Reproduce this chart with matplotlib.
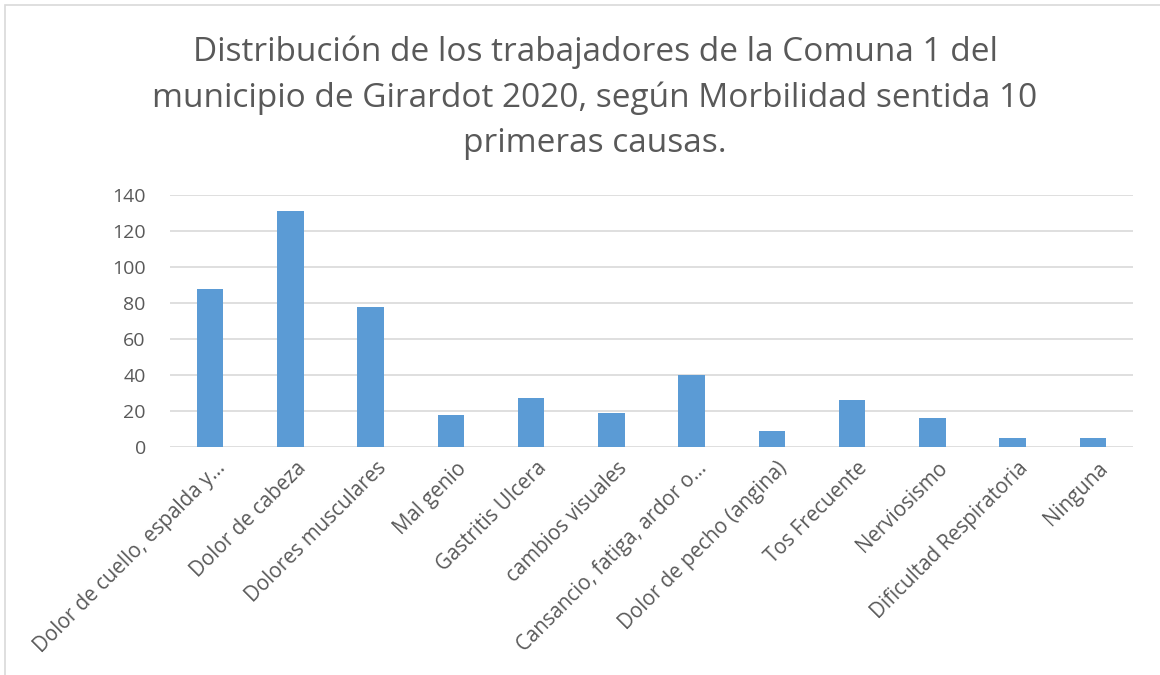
import matplotlib.pyplot as plt
from matplotlib.patches import Rectangle
import matplotlib.transforms as mtransforms

# chart values
causas = ['Dolor de cuello, espalda y…', 'Dolor de cabeza', 'Dolores musculares',
          'Mal genio', 'Gastritis Ulcera', 'cambios visuales',
          'Cansancio, fatiga, ardor o…', 'Dolor de pecho (angina)', 'Tos Frecuente',
          'Nerviosismo', 'Dificultad Respiratoria', 'Ninguna']
trabajadores = [88, 131, 78, 18, 27, 19, 40, 9, 26, 16, 5, 5]
y_ticks = [0, 20, 40, 60, 80, 100, 120, 140]

titulo = ('Distribución de los trabajadores de la Comuna 1 del\n'
          'municipio de Girardot 2020, según Morbilidad sentida 10\n'
          'primeras causas.')

plt.rcParams['font.family'] = ['Open Sans', 'DejaVu Sans']

fig = plt.figure(figsize=(11.6, 6.75), dpi=100)
ax = fig.add_axes([0.1466, 0.3378, 0.83, 0.3733])

x = range(len(causas))
ax.bar(x, trabajadores, width=0.33, color='#5b9bd5', zorder=3)

ax.set_ylim(0, 140)
ax.set_xlim(-0.5, len(causas) - 0.5)
ax.set_yticks(y_ticks)
ax.yaxis.grid(True, color='#d9d9d9', linewidth=1.2, zorder=0)
for s in ax.spines.values():
    s.set_visible(False)
ax.tick_params(axis='both', length=0, colors='#595959', labelsize=14)
ax.tick_params(axis='y', pad=17.5)
ax.tick_params(axis='x', labelsize=14.8)

ax.set_xticks(list(x))
ax.set_xticklabels(causas, rotation=45, ha='right', rotation_mode='anchor')
offset = mtransforms.ScaledTranslation(0.05, -0.06, fig.dpi_scale_trans)
for lbl in ax.get_xticklabels():
    lbl.set_transform(lbl.get_transform() + offset)

fig.text(0.513, 0.948, titulo, ha='center', va='top', fontsize=24,
         color='#595959', linespacing=1.5)

fig.patches.append(Rectangle((5 / 1160, -0.1), 1.2, 1.1 - 5 / 675, transform=fig.transFigure,
                             fill=False, edgecolor='#d9d9d9', linewidth=1.2))

fig.savefig('out.png', dpi=100)
